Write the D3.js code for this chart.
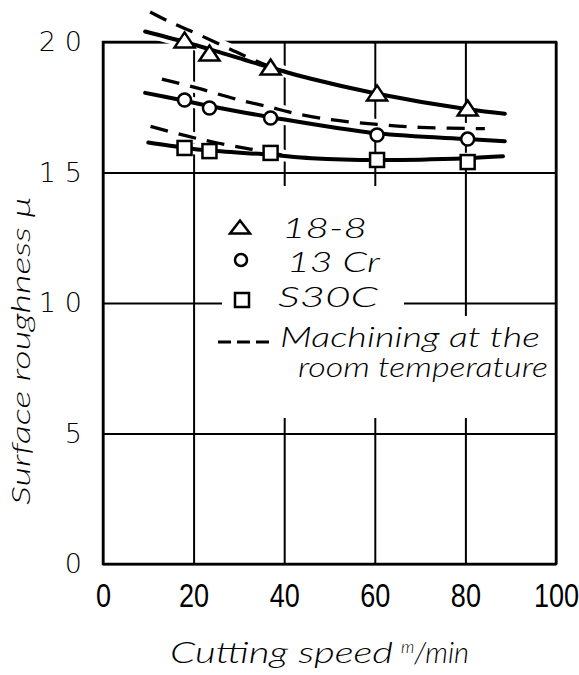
<!DOCTYPE html>
<html>
<head>
<meta charset="utf-8">
<script src="https://cdn.jsdelivr.net/npm/d3@7"></script>
<style>
  body { margin: 0; background: #fff; }
  svg { display: block; }
</style>
</head>
<body>
<svg id="chart" width="579" height="675"></svg>
<script>
// measured points (cutting speed m/min vs surface roughness)
var speeds = [18, 23.5, 37, 60.5, 80.5]
var steel188 = [20.08, 19.58, 19.04, 18.05, 17.47]
var cr13 = [17.78, 17.47, 17.09, 16.44, 16.28]
var s30c = [15.94, 15.82, 15.75, 15.48, 15.40]

// fitted curves, hot machining (solid)
var fit188 = [[9.3, 20.4], [18, 20.0], [24, 19.7], [32.5, 19.25], [45.7, 18.6], [60.5, 18.02], [80.5, 17.42], [88.7, 17.25]]
var fit13 = [[9.3, 18.05], [18, 17.75], [23.5, 17.55], [37, 17.12], [60.5, 16.5], [80.5, 16.28], [88.7, 16.2]]
var fitS30 = [[10, 16.15], [18, 15.95], [23, 15.85], [37, 15.68], [46, 15.55], [60.5, 15.48], [80.5, 15.55], [88.3, 15.62]]

// machining at room temperature (dashed)
var room188 = [[10.4, 21.15], [15, 20.75], [20.3, 20.35], [29, 19.65], [36, 19.12], [40.5, 18.85]]
var room13 = [[13, 18.58], [20.7, 18.24], [29.6, 17.8], [37, 17.5], [41, 17.32], [50, 17.03], [60.5, 16.84], [70, 16.73], [84.3, 16.68]]
var roomS30 = [[10.5, 16.77], [18, 16.42], [25, 16.14], [32.5, 15.9], [39.7, 15.67]]

var xTicks = [0, 20, 40, 60, 80, 100]
var yTicks = [0, 5, 10, 15, 20]

var svg = d3.select("#chart")
var plotL = 103, plotR = 556, plotT = 42, plotB = 564
var handFont = "Lato, 'DejaVu Sans', sans-serif"

var x = d3.scaleLinear().domain([0, 100]).range([plotL, plotR])
var y = d3.scaleLinear().domain([0, 20]).range([plotB, plotT])

// grid + tick labels
var xAxis = svg.append("g")
    .attr("transform", "translate(0," + plotB + ")")
    .call(d3.axisBottom(x).tickValues(xTicks).tickSize(-(plotB - plotT)).tickPadding(20))
xAxis.select(".domain").remove()
xAxis.selectAll("line").attr("stroke", "#000").attr("stroke-width", 2)
xAxis.selectAll("text")
    .attr("transform", "scale(0.82,1)")
    .style("font-family", "'Liberation Sans', Arial, sans-serif")
    .style("font-size", "33px")
    .attr("fill", "#000")

var yAxis = svg.append("g")
    .attr("transform", "translate(" + plotL + ",0)")
    .call(d3.axisLeft(y).tickValues(yTicks).tickSize(-(plotR - plotL)).tickPadding(12))
yAxis.select(".domain").remove()
yAxis.selectAll("line").attr("stroke", "#000").attr("stroke-width", 2)
yAxis.selectAll("text")
    .style("font-family", "'DejaVu Sans', sans-serif")
    .style("font-weight", "200")
    .style("font-size", "27px")
    .style("letter-spacing", "9px")
    .attr("fill", "#000")

// frame
svg.append("rect")
    .attr("x", plotL).attr("y", plotT)
    .attr("width", plotR - plotL).attr("height", plotB - plotT)
    .attr("fill", "none").attr("stroke", "#000").attr("stroke-width", 2.5)

// white patches behind the legend (the grid is broken there)
svg.append("rect").attr("x", 222).attr("y", 186).attr("width", 182).attr("height", 228).attr("fill", "#fff")
svg.append("rect").attr("x", 222).attr("y", 316).attr("width", 328).attr("height", 102).attr("fill", "#fff")

var line = d3.line()
    .x(function(d) { return x(d[0]) })
    .y(function(d) { return y(d[1]) })
    .curve(d3.curveCatmullRom.alpha(0.5))

var solids = [fit188, fit13, fitS30]
var dashes = [room188, room13, roomS30]

// white halos so the grid breaks where curves cross it
solids.concat(dashes).forEach(function(c) {
    svg.append("path").attr("d", line(c))
        .attr("fill", "none").attr("stroke", "#fff").attr("stroke-width", 11)
        .attr("stroke-linecap", "round")
})

dashes.forEach(function(c) {
    svg.append("path").attr("d", line(c))
        .attr("fill", "none").attr("stroke", "#000").attr("stroke-width", 3.3)
        .attr("stroke-dasharray", "18,11")
})

solids.forEach(function(c) {
    svg.append("path").attr("d", line(c))
        .attr("fill", "none").attr("stroke", "#000").attr("stroke-width", 4)
        .attr("stroke-linecap", "round")
})

// markers
function triPath(w, h) {
    return "M0," + (-h / 2) + "L" + (w / 2) + "," + (h / 2) + "L" + (-w / 2) + "," + (h / 2) + "Z"
}

function addMarkers(vals, kind) {
    var g = svg.append("g")
    var pts = speeds.map(function(s, i) { return [x(s), y(vals[i])] })
    pts.forEach(function(p) {
        if (kind === "tri") {
            g.append("path").attr("d", triPath(20, 15))
                .attr("transform", "translate(" + p[0] + "," + p[1] + ")")
        } else if (kind === "circle") {
            g.append("circle").attr("cx", p[0]).attr("cy", p[1]).attr("r", 6.5)
        } else {
            g.append("rect").attr("x", p[0] - 7).attr("y", p[1] - 7).attr("width", 14).attr("height", 14)
        }
    })
    g.selectAll("*").attr("fill", "#fff").attr("stroke", "#000").attr("stroke-width", 2.5)
}
addMarkers(steel188, "tri")
addMarkers(cr13, "circle")
addMarkers(s30c, "square")

// legend
var lg = svg.append("g").attr("class", "legend")
lg.append("path").attr("d", triPath(20, 13)).attr("transform", "translate(240,227)")
    .attr("fill", "#fff").attr("stroke", "#000").attr("stroke-width", 2.5)
lg.append("circle").attr("cx", 241).attr("cy", 260).attr("r", 6)
    .attr("fill", "#fff").attr("stroke", "#000").attr("stroke-width", 2.5)
lg.append("rect").attr("x", 235).attr("y", 293).attr("width", 14).attr("height", 14)
    .attr("fill", "#fff").attr("stroke", "#000").attr("stroke-width", 2.5)
lg.append("line").attr("x1", 218).attr("x2", 270).attr("y1", 342).attr("y2", 342)
    .attr("stroke", "#000").attr("stroke-width", 3).attr("stroke-dasharray", "13,6")

var legendText = [
    {t: "18-8", x: 282, y: 238, w: 85},
    {t: "13 Cr", x: 287, y: 272, w: 93},
    {t: "S30C", x: 278, y: 307, w: 100},
    {t: "Machining at the", x: 280, y: 347, w: 260},
    {t: "room temperature", x: 298, y: 377, w: 250}
]
legendText.forEach(function(d) {
    lg.append("text").attr("x", d.x).attr("y", d.y)
        .attr("textLength", d.w).attr("lengthAdjust", "spacingAndGlyphs")
        .style("font-family", handFont).style("font-style", "italic").style("font-weight", "300")
        .style("font-size", "27px").attr("fill", "#000")
        .text(d.t)
})

// axis titles
svg.append("text").attr("x", 170).attr("y", 663)
    .attr("textLength", 223).attr("lengthAdjust", "spacingAndGlyphs")
    .style("font-family", handFont).style("font-style", "italic").style("font-weight", "300")
    .style("font-size", "29px")
    .text("Cutting speed")
var unit = svg.append("text").attr("x", 401).attr("y", 663)
    .style("font-family", handFont).style("font-style", "italic").style("font-weight", "300")
    .style("font-size", "29px")
unit.append("tspan").attr("dy", -10).style("font-size", "17px").text("m")
unit.append("tspan").attr("dy", 10).text("/min")

svg.append("text")
    .attr("transform", "translate(30,351) rotate(-90)")
    .attr("text-anchor", "middle")
    .attr("textLength", 308).attr("lengthAdjust", "spacingAndGlyphs")
    .style("font-family", handFont).style("font-style", "italic").style("font-weight", "300")
    .style("font-size", "25px")
    .text("Surface roughness \u03bc")
</script>
</body>
</html>
